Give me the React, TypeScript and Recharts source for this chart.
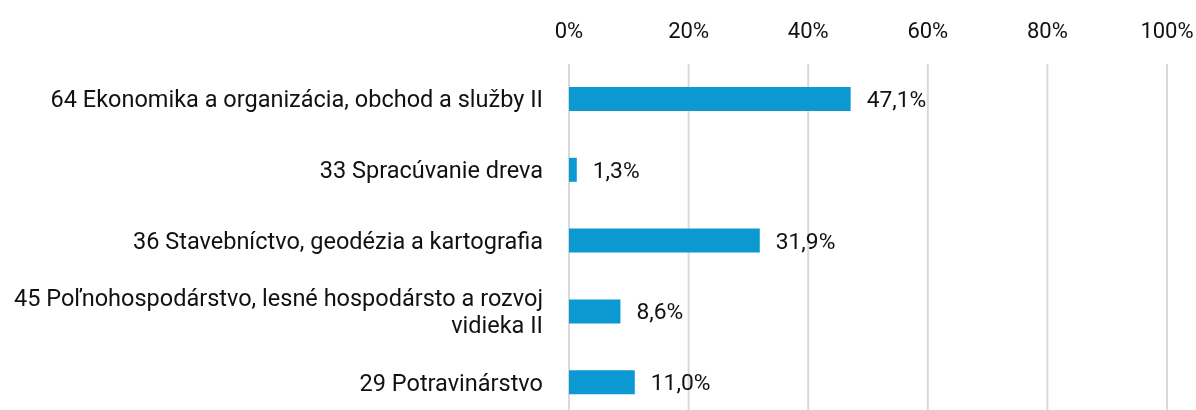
import { Bar, BarChart, CartesianGrid, LabelList, XAxis, YAxis } from "recharts"

const categories = [
  "64 Ekonomika a organizácia, obchod a služby II",
  "33 Spracúvanie dreva",
  "36 Stavebníctvo, geodézia a kartografia",
  "45 Poľnohospodárstvo, lesné hospodársto a rozvoj vidieka II",
  "29 Potravinárstvo",
]

const shares = [47.1, 1.3, 31.9, 8.6, 11.0]

const xTicks = [0, 20, 40, 60, 80, 100]

const data = categories.map((name, i) => ({ name, value: shares[i] }))

const FONT = "Roboto, sans-serif"

// split long category names into lines of at most ~48 chars
function wrap(text: string, max = 48) {
  const lines: string[] = []
  let cur = ""
  for (const w of text.split(" ")) {
    const next = cur ? cur + " " + w : w
    if (next.length > max && cur) {
      lines.push(cur)
      cur = w
    } else {
      cur = next
    }
  }
  if (cur) lines.push(cur)
  return lines
}

function CategoryTick(props: any) {
  const { x, y, payload } = props
  const lines = wrap(payload.value)
  const lh = 27
  const start = -((lines.length - 1) * lh) / 2
  return (
    <text x={x} y={y} textAnchor="end" fill="#111" fontSize={23.5} fontFamily={FONT}>
      {lines.map((l, i) => (
        <tspan key={i} x={x} dy={i === 0 ? start + 8 : lh}>
          {l}
        </tspan>
      ))}
    </text>
  )
}

export default function App() {
  return (
    <div style={{ position: "fixed", left: 0, top: 0, width: 1196, height: 410, overflow: "hidden" }}>
      <BarChart
        width={1196}
        height={418}
        data={data}
        layout="vertical"
        margin={{ top: 0, right: 29, bottom: 0, left: 0 }}
      >
        <CartesianGrid horizontal={false} stroke="#D9D9D9" strokeWidth={2} />
        <XAxis
          type="number"
          orientation="top"
          domain={[0, 100]}
          ticks={xTicks}
          height={64}
          tickLine={false}
          axisLine={false}
          tickSize={0}
          tickMargin={26}
          tick={{ fill: "#111", fontSize: 22, fontFamily: FONT }}
          tickFormatter={(v) => `${v}%`}
        />
        <YAxis
          type="category"
          dataKey="name"
          width={569}
          tickLine={false}
          axisLine={false}
          tickSize={0}
          tickMargin={26}
          tick={<CategoryTick />}
          interval={0}
        />
        <Bar dataKey="value" fill="#0C99D1" barSize={24} isAnimationActive={false}>
          <LabelList
            dataKey="value"
            position="right"
            offset={16}
            fill="#111"
            fontSize={22.8}
            fontFamily={FONT}
            formatter={(v: any) => `${Number(v).toFixed(1).replace(".", ",")}%`}
          />
        </Bar>
      </BarChart>
    </div>
  )
}
